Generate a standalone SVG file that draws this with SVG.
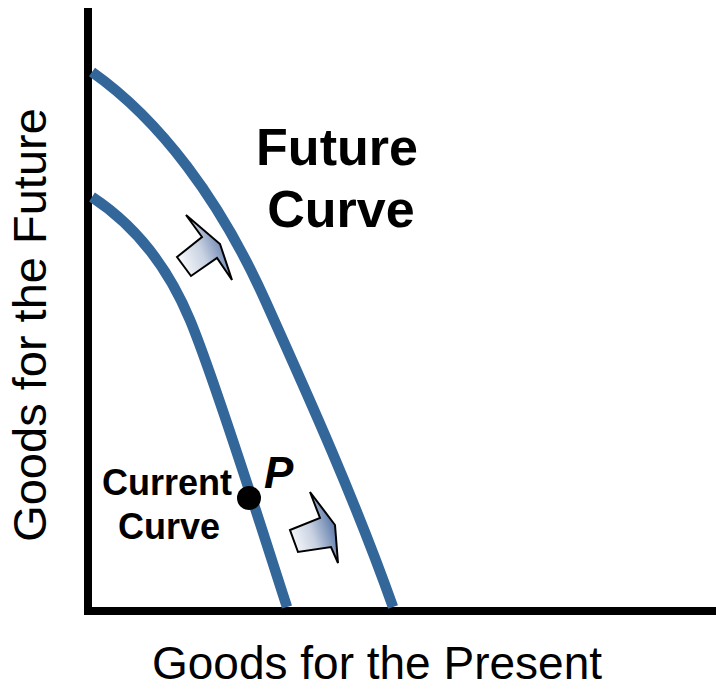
<svg xmlns="http://www.w3.org/2000/svg" width="716" height="690" viewBox="0 0 716 690">
<style>
.axis{stroke:#000;stroke-width:8;fill:none}
.curve{stroke:#336699;stroke-width:10.5;fill:none}
.shift{stroke:#000;stroke-width:2;stroke-linejoin:miter;fill:url(#g)}
.lbl{font-family:"Liberation Sans",Arial,sans-serif;fill:#000}
.b{font-weight:bold}
</style>
<defs>
<linearGradient id="g" x1="0" y1="0.8" x2="1" y2="0.3">
<stop offset="0" stop-color="#ffffff"/>
<stop offset="0.45" stop-color="#c9d2e2"/>
<stop offset="1" stop-color="#3f6199"/>
</linearGradient>
</defs>
<rect width="716" height="690" fill="#fff"/>
<g id="axes">
<line class="axis" x1="88" y1="8" x2="88" y2="615"/>
<line class="axis" x1="84" y1="611" x2="716" y2="611"/>
</g>
<g id="connectors">
<path id="future-curve" class="curve" d="M92,72 C160,120 220,200 265,300 C310,400 355,500 393,607"/>
<path id="current-curve" class="curve" d="M92,197 C130,222 165,260 190,320 C215,380 262,530 287,607"/>
<polygon class="shift" points="177,257 202,237 186,215 220,244 232,280 217,258 191,276"/>
<polygon class="shift" points="290,530 320,518 310,492 335,525 338,563 331,547 298,552"/>
</g>
<g id="point-p">
<circle cx="249" cy="498" r="12" fill="#000"/>
<text class="lbl b" x="264" y="488" font-size="44" font-style="italic">P</text>
</g>
<g id="future-label">
<text class="lbl b" x="337" y="165" font-size="52" text-anchor="middle">Future</text>
<text class="lbl b" x="341" y="227" font-size="52" text-anchor="middle">Curve</text>
</g>
<g id="current-label">
<text class="lbl b" x="167" y="495" font-size="36" text-anchor="middle">Current</text>
<text class="lbl b" x="169" y="539" font-size="36" text-anchor="middle">Curve</text>
</g>
<g id="y-axis-label">
<text class="lbl" transform="translate(46,325) rotate(-90)" font-size="47" text-anchor="middle">Goods for the Future</text>
</g>
<g id="x-axis-label">
<text class="lbl" x="377" y="679" font-size="46" text-anchor="middle">Goods for the Present</text>
</g>
</svg>
